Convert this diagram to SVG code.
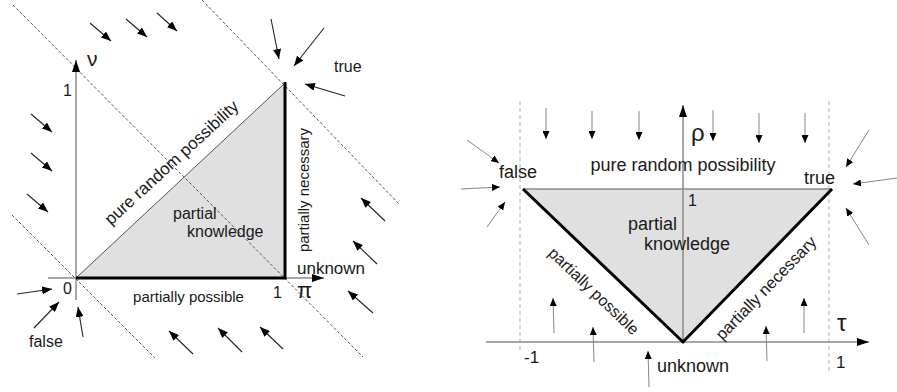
<svg xmlns="http://www.w3.org/2000/svg" width="897" height="392" viewBox="0 0 897 392">
<defs>
<marker id="ah" viewBox="0 0 10 8" refX="10" refY="4" markerWidth="10" markerHeight="8" markerUnits="userSpaceOnUse" orient="auto"><path d="M0,0L10,4L0,8z" fill="#000"/></marker>
<marker id="ahs" viewBox="0 0 8 7" refX="8" refY="3.5" markerWidth="8" markerHeight="7" markerUnits="userSpaceOnUse" orient="auto"><path d="M0,0L8,3.5L0,7z" fill="#000"/></marker>
<marker id="ax" viewBox="0 0 12 8" refX="12" refY="4" markerWidth="12" markerHeight="8" markerUnits="userSpaceOnUse" orient="auto"><path d="M0,0L12,4L0,8z" fill="#000"/></marker>
</defs>
<style>
text{font-family:"Liberation Sans",Arial,sans-serif;fill:#1a1a1a}
.ax{stroke:#8a8a8a;stroke-width:1.5;fill:none}
.thick{stroke:#000;stroke-width:3;fill:none;stroke-linejoin:miter}
.tri{fill:#e0e0e0;stroke:none}
.dl{stroke:#555;stroke-width:1;stroke-dasharray:3,2;fill:none}
.dr{stroke:#b0b0b0;stroke-width:1;stroke-dasharray:4,3;fill:none}
.al{stroke:#222;stroke-width:1.1;fill:none;marker-end:url(#ah)}
.ar{stroke:#888;stroke-width:1;fill:none;marker-end:url(#ahs)}
</style>
<rect width="897" height="392" fill="#fff"/>

<g id="left-diagram">
  <g id="left-region">
    <polygon class="tri" points="76,278 285,83 285,278"/>
    <line x1="76" y1="278" x2="285" y2="83" stroke="#555" stroke-width="1"/>
  </g>
  <g id="left-guides">
    <line class="dl" x1="13" y1="5" x2="363" y2="357"/>
    <line class="dl" x1="12" y1="215" x2="155" y2="358"/>
    <line class="dl" x1="202" y1="0" x2="400" y2="205"/>
  </g>
  <g id="left-axes">
    <line class="ax" x1="76" y1="300" x2="76" y2="60" marker-end="url(#ax)"/>
    <line class="ax" x1="48" y1="278" x2="324" y2="278" marker-end="url(#ax)"/>
  </g>
  <g id="left-edges">
    <polyline class="thick" points="76,278 285,278 285,82"/>
  </g>
  <g id="left-labels">
    <text x="87" y="66" font-size="21">ν</text>
    <text x="63" y="96" font-size="16">1</text>
    <text x="63" y="294" font-size="16">0</text>
    <text x="273" y="298" font-size="16">1</text>
    <text x="297" y="298" font-size="22">π</text>
    <text x="334" y="72" font-size="16">true</text>
    <text x="297" y="274" font-size="17">unknown</text>
    <text x="29" y="347" font-size="16">false</text>
    <text x="188.5" y="302" font-size="15" text-anchor="middle">partially possible</text>
    <text transform="translate(309,190) rotate(-90)" font-size="15" text-anchor="middle">partially necessary</text>
    <text transform="translate(175.4,166.7) rotate(-42.5)" font-size="17" text-anchor="middle">pure random possibility</text>
    <text x="173" y="219" font-size="16">partial</text>
    <text x="187" y="237" font-size="16">knowledge</text>
  </g>
</g>

<g id="right-diagram">
  <g id="right-guides">
    <line class="dr" x1="520" y1="101" x2="520" y2="350"/>
    <line class="dr" x1="829" y1="101" x2="829" y2="374"/>
  </g>
  <g id="right-region">
    <polygon class="tri" points="523,189 832,189 683,342"/>
    <line x1="523" y1="189" x2="832" y2="189" stroke="#8a8a8a" stroke-width="1.3"/>
  </g>
  <g id="right-axes">
    <line class="ax" x1="683" y1="342" x2="683" y2="105" marker-end="url(#ax)"/>
    <line class="ax" x1="486" y1="342" x2="869" y2="342" marker-end="url(#ax)"/>
  </g>
  <g id="right-edges">
    <polyline class="thick" points="523,189 683,342 832,189"/>
  </g>
  <g id="right-labels">
    <text x="691" y="141" font-size="24">ρ</text>
    <text x="837" y="331" font-size="24">τ</text>
    <text x="688" y="206" font-size="16">1</text>
    <text x="524" y="363" font-size="17">-1</text>
    <text x="836" y="368" font-size="17">1</text>
    <text x="499" y="178" font-size="18">false</text>
    <text x="804" y="184" font-size="18">true</text>
    <text x="657" y="372" font-size="18">unknown</text>
    <text x="683" y="171" font-size="18" text-anchor="middle">pure random possibility</text>
    <text x="628" y="230" font-size="18">partial</text>
    <text x="644" y="250" font-size="18">knowledge</text>
    <text transform="translate(590,295) rotate(43.7)" font-size="16" text-anchor="middle">partially possible</text>
    <text transform="translate(770,292) rotate(-45.9)" font-size="16.5" text-anchor="middle">partially necessary</text>
  </g>
</g>

<g id="connectors">
  <line class="al" x1="90" y1="23" x2="111" y2="41"/>
  <line class="al" x1="126" y1="19" x2="147" y2="37"/>
  <line class="al" x1="157" y1="13" x2="177" y2="31"/>
  <line class="al" x1="31" y1="114" x2="52" y2="132"/>
  <line class="al" x1="31" y1="153" x2="52" y2="171"/>
  <line class="al" x1="27" y1="194" x2="48" y2="212"/>
  <line class="al" x1="271" y1="19" x2="279" y2="59"/>
  <line class="al" x1="324" y1="28" x2="294" y2="66"/>
  <line class="al" x1="345" y1="96" x2="305" y2="84"/>
  <line class="al" x1="17" y1="294" x2="52" y2="289"/>
  <line class="al" x1="34" y1="328" x2="59" y2="302"/>
  <line class="al" x1="83" y1="337" x2="78" y2="307"/>
  <line class="al" x1="193" y1="354" x2="169" y2="331"/>
  <line class="al" x1="242" y1="352" x2="218" y2="328"/>
  <line class="al" x1="283" y1="349" x2="260" y2="327"/>
  <line class="al" x1="373" y1="313" x2="348" y2="291"/>
  <line class="al" x1="377" y1="264" x2="353" y2="241"/>
  <line class="al" x1="385" y1="221" x2="361" y2="198"/>

  <line class="ar" x1="546" y1="108" x2="546" y2="139"/>
  <line class="ar" x1="592" y1="111" x2="592" y2="139"/>
  <line class="ar" x1="639" y1="111" x2="639" y2="140"/>
  <line class="ar" x1="713" y1="110" x2="713" y2="141"/>
  <line class="ar" x1="759" y1="113" x2="759" y2="143"/>
  <line class="ar" x1="805" y1="113" x2="805" y2="143"/>
  <line class="ar" x1="467" y1="140" x2="499" y2="163"/>
  <line class="ar" x1="461" y1="189" x2="500" y2="187"/>
  <line class="ar" x1="487" y1="227" x2="505" y2="202"/>
  <line class="ar" x1="869" y1="130" x2="846" y2="167"/>
  <line class="ar" x1="897" y1="178" x2="853" y2="184"/>
  <line class="ar" x1="869" y1="245" x2="846" y2="208"/>
  <line class="ar" x1="554" y1="333" x2="553" y2="298"/>
  <line class="ar" x1="594" y1="362" x2="593" y2="327"/>
  <line class="ar" x1="649" y1="387" x2="648" y2="351"/>
  <line class="ar" x1="767" y1="361" x2="766" y2="326"/>
  <line class="ar" x1="804" y1="333" x2="804" y2="298"/>
</g>
</svg>
